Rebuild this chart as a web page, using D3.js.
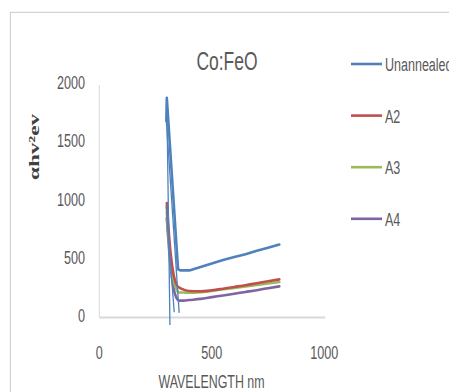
<!DOCTYPE html>
<html>
<head>
<meta charset="utf-8">
<script src="https://cdn.jsdelivr.net/npm/d3@7"></script>
<style>
  body { margin: 0; background: #fff; }
  text { fill: #595959; }
</style>
</head>
<body>
<div id="chart"></div>
<script>
// Dane
const seriesNames = ["Unannealed", "A2", "A3", "A4"];
const seriesColors = ["#4F81BD", "#C0504D", "#9BBB59", "#8064A2"];

const unannealedX = [298, 300, 350, 360, 400, 450, 500, 550, 600, 650, 700, 750, 800];
const unannealedY = [1690, 1890, 415, 405, 405, 435, 465, 495, 520, 545, 575, 600, 627];

const a2X = [300, 314, 329, 344, 355, 375, 400, 450, 500, 550, 600, 650, 700, 750, 800];
const a2Y = [985, 610, 383, 280, 258, 240, 228, 225, 234, 248, 263, 278, 295, 312, 328];

const a3X = [300, 314, 329, 344, 351, 375, 400, 450, 500, 550, 600, 650, 700, 750, 800];
const a3Y = [910, 560, 330, 240, 215, 215, 213, 218, 228, 243, 255, 268, 280, 293, 305];

const a4X = [300, 314, 329, 344, 355, 375, 400, 450, 500, 550, 600, 650, 700, 750, 800];
const a4Y = [855, 500, 260, 165, 145, 145, 150, 160, 175, 190, 205, 220, 235, 252, 268];

// linie styczne (ekstrapolacja do osi)
const tangentX = [[300, 314], [297, 333], [298, 355]];
const tangentY = [[1890, -65], [960, 45], [1690, 40]];

const xTicks = [0, 500, 1000];
const yTicks = [0, 500, 1000, 1500, 2000];

const width = 449, height = 392;
const sans = "'Liberation Sans', Arial, sans-serif";
const svg = d3.select("#chart").append("svg")
    .attr("width", width)
    .attr("height", height);

// ramka wykresu
svg.append("rect")
    .attr("x", 11).attr("y", 13)
    .attr("width", 460).attr("height", 400)
    .attr("fill", "none").attr("stroke", "#ececec").attr("stroke-width", 3);
svg.append("rect")
    .attr("x", 10.5).attr("y", 12.5)
    .attr("width", 460).attr("height", 400)
    .attr("fill", "#fff").attr("stroke", "#d4d4d4");

const x = d3.scaleLinear().domain([0, 1000]).range([99.3, 324.3]);
const y = d3.scaleLinear().domain([0, 2000]).range([317.5, 85]);

// tekst ściśnięty w poziomie (jak w oryginale)
function label(px, py, str, size, anchor, sx = 0.7) {
    return svg.append("text")
        .attr("transform", `translate(${px},${py}) scale(${sx},1)`)
        .attr("text-anchor", anchor)
        .attr("dominant-baseline", "central")
        .attr("font-size", size)
        .style("font-family", sans)
        .text(str);
}

// osie
svg.append("line")
    .attr("x1", x(0)).attr("x2", x(0))
    .attr("y1", y(2000)).attr("y2", y(0))
    .attr("stroke", "#d9d9d9").attr("stroke-width", 1);
svg.append("line")
    .attr("x1", x(0)).attr("x2", x(1000) + 1)
    .attr("y1", y(0)).attr("y2", y(0))
    .attr("stroke", "#d9d9d9").attr("stroke-width", 2);

yTicks.forEach(t => label(85, y(t) - 2, t, 18, "end"));
xTicks.forEach(t => label(x(t), 353, t, 18, "middle"));

label(227, 61, "Co:FeO", 25, "middle");
label(211.5, 382, "WAVELENGTH nm", 18, "middle", 0.69);

// etykieta osi Y (szeryfowa)
svg.append("text")
    .attr("transform", "translate(39,147) rotate(-90)")
    .attr("text-anchor", "middle")
    .attr("font-weight", "bold")
    .attr("font-size", 15)
    .attr("textLength", 66)
    .attr("lengthAdjust", "spacingAndGlyphs")
    .style("font-family", "'Liberation Serif', 'DejaVu Serif', serif")
    .style("fill", "#404040")
    .text("αhv²ev");

// serie
const allX = [unannealedX, a2X, a3X, a4X];
const allY = [unannealedY, a2Y, a3Y, a4Y];

const smooth = d3.line()
    .x(d => x(d[0]))
    .y(d => y(d[1]))
    .curve(d3.curveMonotoneX);
const straight = d3.line().x(d => x(d[0])).y(d => y(d[1]));

for (let i = allX.length - 1; i >= 0; i--) {
    const pts = allX[i].map((v, j) => [v, allY[i][j]]);
    svg.append("path")
        .datum(pts)
        .attr("d", i === 0 ? straight : smooth)
        .attr("fill", "none")
        .attr("stroke", seriesColors[i])
        .attr("stroke-width", 2.6)
        .attr("stroke-linejoin", "round")
        .attr("stroke-linecap", "round");
}

tangentX.forEach((tx, i) => {
    svg.append("path")
        .datum(tx.map((v, j) => [v, tangentY[i][j]]))
        .attr("d", straight)
        .attr("fill", "none")
        .attr("stroke", "#4F81BD")
        .attr("stroke-width", 1.3);
});

// legenda
seriesNames.forEach((name, i) => {
    const ly = 64 + i * 51.6;
    svg.append("line")
        .attr("x1", 351).attr("x2", 382)
        .attr("y1", ly).attr("y2", ly)
        .attr("stroke", seriesColors[i])
        .attr("stroke-width", 2.6);
    label(385, ly, name, 19, "start", 0.66);
});
</script>
</body>
</html>
